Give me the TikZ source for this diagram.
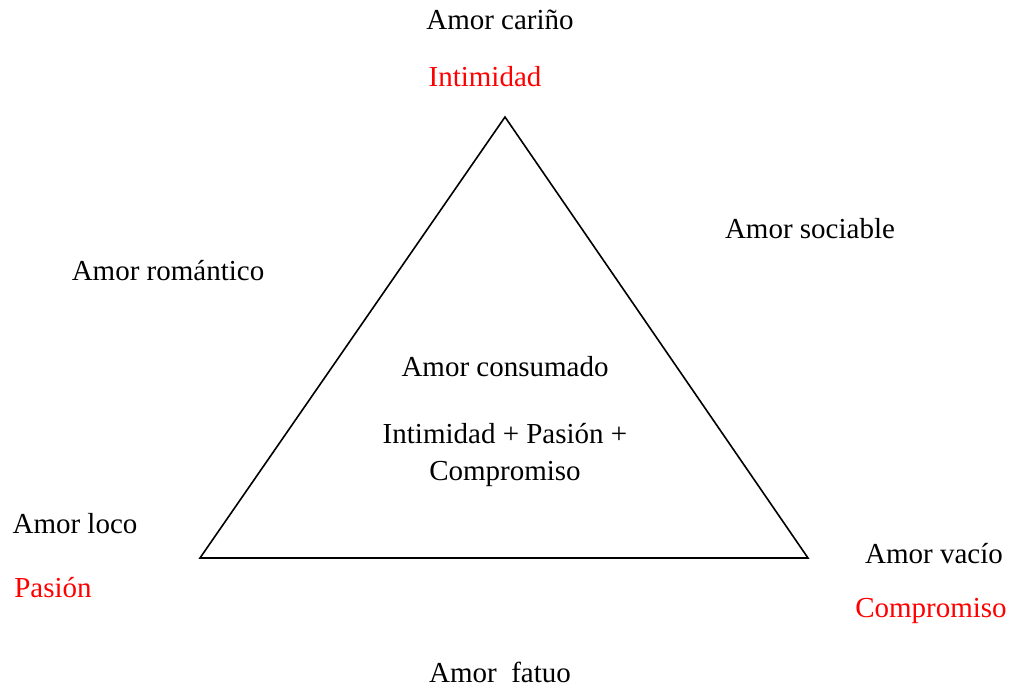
\documentclass[tikz,border=0pt]{standalone}
\usepackage{fontspec}
\setmainfont{Liberation Serif}
\begin{document}
\begin{tikzpicture}[x=1pt,y=-1pt,
  lbl/.style={anchor=base,inner sep=0pt,font=\fontsize{29}{37}\selectfont},
  redlbl/.style={lbl,text={rgb,255:red,255;green,0;blue,0}}]
\useasboundingbox (0,0) rectangle (1015,690);
\coordinate (top) at (505,117);
\coordinate (left) at (200,558);
\coordinate (right) at (808,558);
\draw[line width=1.6pt,line join=miter] (top) -- (left) -- (right) -- cycle;
\node[lbl] (carino) at (500,30) {Amor cariño};
\node[redlbl] (intimidad) at (485,87) {Intimidad};
\node[lbl] (sociable) at (810,238) {Amor sociable};
\node[lbl] (romantico) at (168,280) {Amor romántico};
\node[lbl] (consumado) at (505,376) {Amor consumado};
\node[lbl] (formula1) at (505,443) {Intimidad + Pasión +};
\node[lbl] (formula2) at (505,480) {Compromiso};
\node[lbl] (loco) at (75,533) {Amor loco};
\node[redlbl] (pasion) at (53,597) {Pasión};
\node[lbl] (vacio) at (934,563) {Amor vacío};
\node[redlbl] (compromiso) at (931,617) {Compromiso};
\node[lbl] (fatuo) at (500,682) {Amor\ \ fatuo};
\end{tikzpicture}
\end{document}
